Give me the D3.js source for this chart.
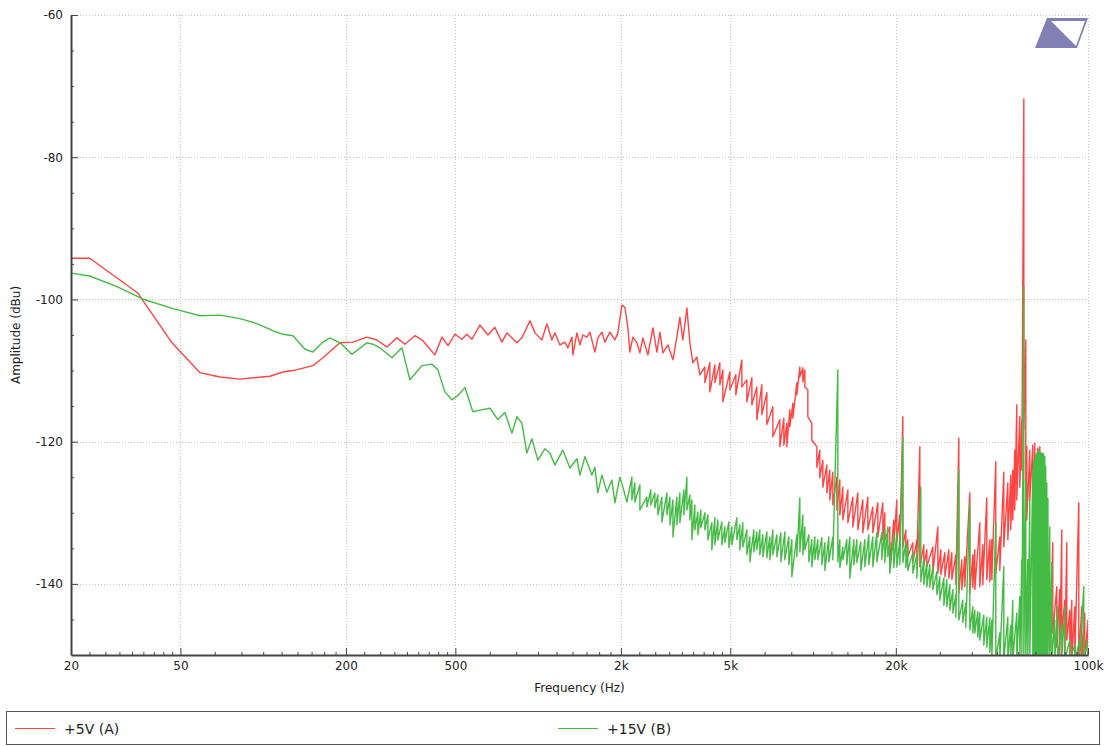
<!doctype html>
<html>
<head>
<meta charset="utf-8">
<title>Amplitude spectrum</title>
<script src="https://d3js.org/d3.v7.min.js"></script>
<style>
  body { margin: 0; background: #fff; }
  svg text { font-family: "DejaVu Sans", sans-serif; fill: #222; }
</style>
</head>
<body>
<svg id="chart" width="1106" height="746"></svg>
<script>
// axis ticks
const xTicks = [20, 50, 200, 500, 2000, 5000, 20000, 100000];
const xTickLabels = ["20", "50", "200", "500", "2k", "5k", "20k", "100k"];
const yTicks = [-140, -120, -100, -80, -60];
const yMinorTicks = [-145, -135, -130, -125, -115, -110, -105, -95, -90, -85, -75, -70, -65];

const seriesNames = ["+5V (A)", "+15V (B)"];
const seriesColors = ["#ff4444", "#44bb44"];

// +5V (A): [freq Hz, dBu] or [freq Hz, max dBu, min dBu] where the trace is noisy
const traceA = [
  [20,-94.2],[23.4,-94.2],[35,-99.1],[46.6,-106.1],[58.9,-110.3],[69.6,-110.9],[82.3,-111.2],[105.8,-110.8],
  [118,-110.2],[128.4,-110.0],[151.7,-109.3],[165,-108.2],[190.2,-106.1],[212,-106.0],[238.5,-105.3],[259.3,-105.7],
  [282,-106.7],[306.6,-105.4],[327.8,-106.3],[356.4,-105.1],[381,-105.8],[421,-107.8],[447,-105.3],[470,-106.5],
  [498,-104.9],[528,-105.6],[551,-104.9],[574,-105.6],[614,-103.6],[657,-105],[696,-103.9],[738,-106],[770,-104.7],
  [837,-106.1],[873,-105.4],[934,-103],[974,-104.7],[1032,-105.7],[1076,-103.4],[1122,-105.7],[1151,-104.7],
  [1200,-106.4],[1251,-106],[1283,-106.8],[1327,-105.3],[1338,-107.8],[1384,-104.7],[1419,-106.4],[1455,-105],
  [1504,-105.3],[1543,-104.6],[1609,-107.4],[1649,-105.4],[1706,-104.6],[1749,-106],[1824,-104.6],[1902,-105.7],
  [1950,-104.7],[2017,-100.8],[2068,-101.1],[2120,-103.9],[2156,-107.4],[2211,-105.3],[2287,-106.1],[2345,-107.5],
  [2405,-105.4],[2508,-107.8],[2616,-104],[2704,-107.4],[2774,-104.6],[2844,-107.5],[2966,-106.4],[3093,-108.5],
  [3196,-105.3],[3278,-102.5],[3362,-105.7],[3476,-101.2],[3564,-106.1],[3654,-108.9],[3779,-108.1],[3875,-110.6],
  [4042,-109.5,-111.7],[4213,-108.9,-113],[4394,-109.2,-111.7],[4582,-108.9,-112],[4698,-109.9,-114.4],
  [4982,-110.2,-112.7],[5238,-110.6,-113.4],[5508,-108.5,-112.3],[5744,-111.3,-114.4],[5990,-111,-114.8],
  [6246,-112.3,-116.9],[6512,-112,-116.2],[6791,-113.1,-117.6],[7141,-115.1,-119.3],[7573,-116.9,-120.7],
  [7830,-116.7,-120.5],[8028,-117.4,-120.7],[8233,-115.5,-117.9],[8444,-114.6,-116.7],[8730,-111.7,-113.4],
  [8953,-109.5,-110.9],[9179,-109.6,-111.6],[9335,-109.9,-112.3],[9572,-112.7,-116.5],[9897,-117.4,-119.8],
  [10322,-120.7,-123.6],[10584,-121.2,-125.1],[10855,-122.6,-126.4],[11224,-123.3,-127.2],[11508,-124,-128.2],
  [11802,-124.3,-128.9],[12205,-125,-129.6],[12516,-125.4,-130.3],[12835,-126.4,-131],[13384,-126.8,-131.4],
  [13954,-127.8,-132],[14550,-127.2,-132.4],[15172,-128.2,-132.8],[15820,-127.8,-132.4],[16496,-129.2,-132.8],
  [17202,-128.6,-133.4],[17936,-128.6,-133.8],[18240,-130,-133.8],[19020,-132,-137.6],[19666,-131,-134.5],
  [20166,-128.2,-134.2],[20679,-130.3,-134.8],[21209,-116.5,-134.8],[21750,-132.4,-135.2],[22115,-133.8,-136.2],
  [23064,-134.2,-137],[23850,-133.8,-136.6],[24456,-120.7,-137.6],[25288,-134.5,-137.4],[25932,-135.2,-137.6],
  [27268,-134.8,-138.5],[28436,-132,-138.5],[29158,-135.2,-138.7],[30154,-135.6,-139],[31176,-135.2,-139.2],
  [31970,-135.6,-139.4],[33062,-135.9,-140.1],[33902,-119.5,-141.3],[34756,-136.6,-140.8],[35640,-136.2,-140.4],
  [37166,-127.2,-141.3],[38110,-135.9,-140.5],[38756,-135.2,-140.8],[40414,-131.4,-140.4],[41444,-134.5,-140.1],
  [42848,-127.9,-139.4],[43940,-133.8,-139.7],[44680,-133.8,-139.4],[46200,-122.8,-138.5],[47780,-133.4,-138.1],
  [49400,-124.3,-134.8],[51100,-125.8,-133.8],[52380,-124.7,-132.4],[53260,-124,-131],[54160,-121.2,-129.6],
  [55080,-114.8,-128.2],[56480,-116.5,-126.4],[57440,-116.9,-124],[58420,-71.8,-118.3],[59400,-105.7,-128.2],
  [59900,-120.7,-131],[61420,-121.2,-128.2],[62980,-120.5,-131],[64060,-120.2,-133.8],[65680,-120.9,-136.6],
  [66780,-120.7,-139.4],[68480,-121.6,-142.3],[69640,-124,-145.1],[70820,-132.8,-150.7],[72620,-142.3,-149.3],
  [74460,-134.2,-146.9],[77000,-140.4,-148.9],[78960,-140.8,-150],[80280,-132.4,-146.9],[82320,-142.3,-150],
  [83720,-134.2,-147.9],[85860,-143.7,-150.7],[87300,-142.3,-150.7],[89520,-143.2,-150.7],[92580,-128.6,-150.7],
  [94940,-143.2,-150.7],[97360,-144.1,-150.7],[100000,-145.1,-150.7]
];

// +15V (B)
const traceB = [
  [20,-96.3],[23.4,-96.7],[29.4,-98.2],[36.2,-99.9],[47,-101.3],[58.9,-102.3],[69.6,-102.2],[82.3,-102.7],
  [94.9,-103.4],[108.5,-104.4],[118,-104.9],[128.4,-105.1],[141.9,-107],[151.7,-107.4],[165,-106],[174.9,-105.4],
  [190.2,-106.1],[210.3,-107.7],[238.5,-106.1],[250.8,-106.3],[265.8,-106.8],[294,-108.2],[319.7,-106.8],
  [341.8,-111.3],[378,-109.3],[411,-109.1],[432,-109.9],[458,-113],[486,-114.1],[511,-113.5],[542,-112.4],
  [579,-115.8],[625,-115.5],[668,-115.3],[714,-116.9],[757,-115.9],[803,-118.8],[837,-116.5],[873,-117.4],
  [910,-121.6],[949,-119.6],[998,-122.6],[1058,-121],[1104,-121.6],[1151,-123.3],[1230,-121.2],[1305,-123.7],
  [1384,-122.4],[1419,-124.7],[1480,-122.1],[1569,-124.7],[1609,-123.6],[1649,-127.2],[1706,-124.7],[1779,-127.1],
  [1855,-125.4],[1902,-128.6],[1983,-125],[2034,-126.4],[2103,-128.5],
  [2193,-125,-128.2],[2248,-125.8,-128.5],[2345,-126.1,-129.6],[2486,-127.8,-129.2],[2570,-126.8,-128.9],
  [2658,-127.2,-129.3],[2726,-127.5,-130.3],[2819,-127.8,-131.3],[2940,-127.2,-130.3],[3016,-127.8,-131.7],
  [3093,-128.2,-133.4],[3196,-127.8,-131.7],[3278,-127.2,-131.4],[3390,-126.8,-130.3],[3476,-125,-129.6],
  [3564,-127.5,-131],[3624,-128.2,-133.8],[3716,-128.9,-132.4],[3811,-129.9,-133.1],[3908,-129.6,-132.1],
  [4042,-130,-132.4],[4144,-130.3,-133.8],[4284,-131.4,-135.2],[4394,-130.7,-134.5],[4506,-131,-133.8],
  [4658,-131.3,-134.5],[4778,-132,-134.2],[4940,-131.3,-134.9],[5066,-132,-134.5],[5282,-130.7,-133.8],
  [5416,-131.7,-135.2],[5554,-131.4,-134.8],[5744,-132.4,-135.9],[5890,-133.4,-136.9],[6090,-132.4,-135.5],
  [6246,-132.7,-135.2],[6404,-132.4,-135.9],[6568,-133.1,-136.2],[6791,-132.7,-136.3],[6964,-133.4,-136.6],
  [7141,-132.4,-135.9],[7386,-133.1,-136.2],[7638,-132.8,-136.9],[7896,-132.7,-136.6],[8164,-133.4,-137.3],
  [8372,-133.8,-139],[8730,-133.1,-136.2],[8953,-127.9,-135.5],[9179,-130.3,-135.9],[9335,-132,-135.2],
  [9652,-133.1,-136.9],[9897,-133.8,-137.6],[10152,-133.4,-136.6],[10410,-133.8,-136.6],[10764,-133.5,-137.3],
  [11040,-134.2,-138.1],[11412,-133.4,-136.9],[11802,-133.4,-136.6],[12306,-109.9,-136.9],[12516,-133.8,-137.7],
  [12835,-134.8,-136.6],[13268,-133.8,-137.3],[13606,-133.4,-139.2],[14072,-133.8,-137.3],[14428,-133.8,-137],
  [14920,-134.1,-138.1],[15430,-133.8,-137.6],[15954,-133.1,-137.3],[16496,-133.4,-137.6],[17060,-132.8,-136.9],
  [17788,-132.8,-136.6],[18240,-132.4,-137],[18704,-132,-136.2],[19020,-134.2,-138.5],[19666,-133.1,-137.7],
  [20166,-132.8,-137.6],[20679,-133.8,-137.3],[21209,-119.3,-137],[21750,-134.1,-137.7],[22115,-134.8,-138.1],
  [23064,-135.6,-138.5],[23850,-135.9,-139.2],[24660,-126.4,-139.7],[25288,-136.6,-140.1],[25932,-137,-140.4],
  [26590,-137.3,-140.5],[27268,-137.6,-140.8],[28198,-138.3,-141.5],[28908,-139,-142.3],[29902,-139.2,-143],
  [30650,-139.4,-143.2],[31440,-140.1,-143.7],[32254,-140.8,-144.1],[33062,-141.5,-144.7],[33902,-124,-145.1],
  [35040,-142.3,-145.4],[35940,-142.7,-146.1],[37166,-128.6,-146.5],[38110,-143.2,-146.9],[38756,-143.7,-146.9],
  [39740,-143.9,-147.5],[40414,-144.1,-147.9],[41780,-144.4,-148.6],[42848,-144.7,-148.9],[43940,-144.8,-149.6],
  [44680,-145.1,-150.7],[46200,-131.4,-150.7],[47780,-146.9,-150.7],[49400,-137.6,-150.7],[51100,-144.7,-150.7],
  [52380,-145.8,-150.7],[53260,-142.3,-150.7],[55080,-144.1,-150.7],[56480,-141.8,-150.7],[57440,-136.6,-150.7],
  [58420,-98.2,-150.7],[59400,-125.4,-150.7],[60400,-136.6,-150.7],[61420,-128.2,-150.7],[62980,-124,-150.7],
  [63500,-122.8,-150.7],[64060,-122.3,-150.7],[64600,-121.9,-150.7],[65100,-121.6,-150.7],[65680,-121.4,-150.7],
  [66200,-121.2,-150.7],[66780,-121.4,-150.7],[67300,-121.5,-150.7],[67900,-121.7,-150.7],[68480,-121.9,-150.7],
  [69000,-121.8,-150.7],[69640,-122.1,-150.7],[70200,-123.5,-150.7],[70820,-125.8,-150.7],[71500,-128,-150.7],
  [72620,-132,-150.7],[73840,-137,-150.7],[75720,-145.1,-150.7],[77640,-143.2,-150.7],
  [80280,-145.8,-150.7],[82320,-143.2,-150.7],[85860,-147.9,-150.7],[89520,-148.6,-150.7],[93360,-147.9,-150.7],
  [96520,-140.4,-150.7],[100000,-147.9,-150.7]
];

const svg = d3.select("#chart");
const margin = {left: 71, right: 18, top: 15, bottom: 91};
const W = 1106, H = 746;

const x = d3.scaleLog().domain([20, 100000]).range([margin.left, W - margin.right]);
const y = d3.scaleLinear().domain([-150, -60]).range([H - margin.bottom, margin.top]);

// minor ticks: 8 evenly spaced between each pair of labelled ticks
const xMinorTicks = [];
for (let i = 0; i < xTicks.length - 1; i++) {
  const step = (xTicks[i + 1] - xTicks[i]) / 9;
  for (let k = 1; k < 9; k++) xMinorTicks.push(xTicks[i] + k * step);
}

svg.append("clipPath").attr("id", "plotClip")
  .append("rect")
  .attr("x", x.range()[0]).attr("y", y.range()[1])
  .attr("width", x.range()[1] - x.range()[0])
  .attr("height", y.range()[0] - y.range()[1]);

// dotted grid
const grid = svg.append("g")
  .attr("stroke", "#c4c4c4").attr("stroke-width", 1).attr("stroke-dasharray", "1,2");
grid.selectAll(".gx").data(xTicks.slice(1)).join("line")
  .attr("x1", d => Math.round(x(d)) + 0.5).attr("x2", d => Math.round(x(d)) + 0.5)
  .attr("y1", y.range()[1]).attr("y2", y.range()[0]);
grid.selectAll(".gy").data(yTicks).join("line")
  .attr("x1", x.range()[0]).attr("x2", x.range()[1])
  .attr("y1", d => Math.round(y(d)) + 0.5).attr("y2", d => Math.round(y(d)) + 0.5);

// traces, noisy parts drawn as max/min per column
function expand(trace) {
  const pts = [];
  trace.forEach(d => {
    pts.push([d[0], d[1]]);
    if (d.length > 2) pts.push([d[0], d[2]]);
  });
  return pts;
}
const line = d3.line().x(d => x(d[0])).y(d => y(d[1]));
const plot = svg.append("g").attr("clip-path", "url(#plotClip)");
[traceA, traceB].forEach((t, i) => {
  plot.append("path")
    .attr("d", line(expand(t)))
    .attr("fill", "none")
    .attr("stroke", seriesColors[i])
    .attr("stroke-width", 1.4)
    .attr("stroke-linejoin", "round");
});

// axes
svg.append("g")
  .attr("transform", `translate(0,${y.range()[0]})`)
  .call(d3.axisBottom(x).tickValues(xTicks).tickFormat((d, i) => xTickLabels[i])
    .tickSize(-7).tickSizeOuter(0).tickPadding(6));
svg.append("g")
  .attr("transform", `translate(0,${y.range()[0]})`)
  .call(d3.axisBottom(x).tickValues(xMinorTicks).tickFormat("").tickSize(-3).tickSizeOuter(0))
  .call(g => g.select(".domain").remove());

svg.append("g")
  .attr("transform", `translate(${x.range()[0]},0)`)
  .call(d3.axisLeft(y).tickValues(yTicks).tickFormat(d => String(d))
    .tickSize(-7).tickSizeOuter(0).tickPadding(8));
svg.append("g")
  .attr("transform", `translate(${x.range()[0]},0)`)
  .call(d3.axisLeft(y).tickValues(yMinorTicks).tickFormat("").tickSize(-3).tickSizeOuter(0))
  .call(g => g.select(".domain").remove());

svg.selectAll(".domain").attr("stroke", "#444").attr("stroke-width", 2);
svg.selectAll(".tick line").attr("stroke", "#444");
svg.selectAll(".tick text").attr("font-size", 12).attr("fill", "#222")
  .attr("font-family", "DejaVu Sans, sans-serif");

// axis titles
svg.append("text")
  .attr("x", (x.range()[0] + x.range()[1]) / 2).attr("y", 692)
  .attr("text-anchor", "middle").attr("font-size", 12)
  .text("Frequency (Hz)");
svg.append("text")
  .attr("transform", `translate(20,${(y.range()[0] + y.range()[1]) / 2}) rotate(-90)`)
  .attr("text-anchor", "middle").attr("font-size", 12)
  .text("Amplitude (dBu)");

// logo
svg.append("path")
  .attr("d", "M1047,18 L1088,18 L1077,48 L1035,48 Z")
  .attr("fill", "#8080b4");
svg.append("path")
  .attr("d", "M1051,21 L1085,21 L1076,46 Z")
  .attr("fill", "#fff");

// legend
const legend = svg.append("g");
legend.append("rect")
  .attr("x", 6.5).attr("y", 711.5).attr("width", 1093).attr("height", 33)
  .attr("fill", "#fff").attr("stroke", "#555");
const legendX = [15, 558];
seriesNames.forEach((name, i) => {
  legend.append("line")
    .attr("x1", legendX[i]).attr("x2", legendX[i] + 40)
    .attr("y1", 728.5).attr("y2", 728.5)
    .attr("stroke", seriesColors[i]).attr("stroke-width", 1.2);
  legend.append("text")
    .attr("x", legendX[i] + 49).attr("y", 733.5)
    .attr("font-size", 14)
    .text(name);
});
</script>
</body>
</html>
